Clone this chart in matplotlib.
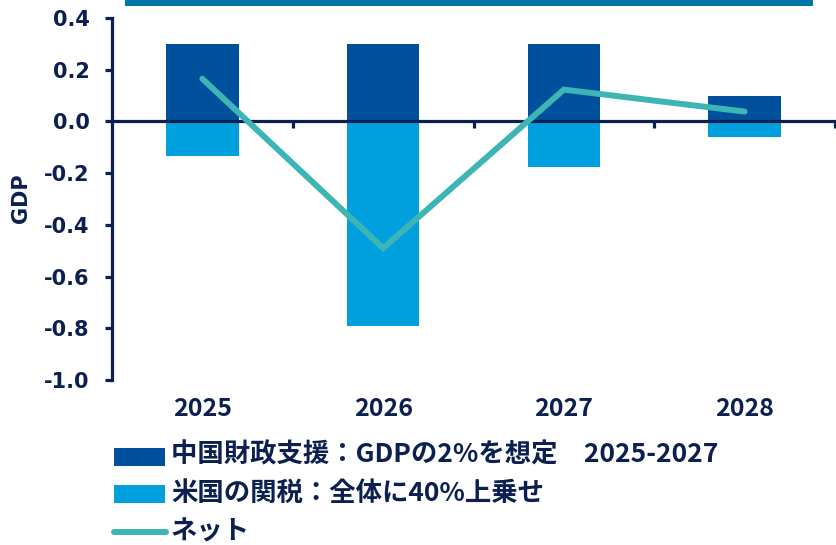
import matplotlib
matplotlib.use("Agg")
import matplotlib.pyplot as plt
from matplotlib.patches import Rectangle
from matplotlib.lines import Line2D
import numpy as np

# Data (percentage points of GDP)
years = ["2025", "2026", "2027", "2028"]
china_fiscal = [0.30, 0.30, 0.30, 0.10]
us_tariff = [-0.135, -0.79, -0.177, -0.062]
net = [0.165, -0.49, 0.123, 0.038]

y_ticks = [0.4, 0.2, 0.0, -0.2, -0.4, -0.6, -0.8, -1.0]
legend_labels = ["中国財政支援：GDPの2%を想定　2025-2027",
                 "米国の関税：全体に40%上乗せ",
                 "ネット"]

NAVY = "#0b2050"
DARK_BLUE = "#00509d"
LIGHT_BLUE = "#00a0df"
TEAL = "#3db5b5"
BAND = "#0077a8"

W, H = 836, 545
fig = plt.figure(figsize=(W / 100, H / 100), dpi=100)
ax = fig.add_axes([112 / W, 1 - 380 / H, (835 - 112) / W, (380 - 18) / H])

x = np.arange(len(years))
ax.bar(x, china_fiscal, width=0.4, color=DARK_BLUE, zorder=2)
ax.bar(x, us_tariff, width=0.4, color=LIGHT_BLUE, zorder=2)
ax.plot(x, net, color=TEAL, linewidth=4.3, solid_capstyle="round",
        solid_joinstyle="miter", zorder=4)

ax.set_xlim(-0.5, len(years) - 0.5)
ax.set_ylim(-1.0, 0.4)

# Axes styling
for side in ("top", "right"):
    ax.spines[side].set_visible(False)
ax.spines["left"].set_color(NAVY)
ax.spines["left"].set_linewidth(2.3)
ax.spines["bottom"].set_position(("data", 0))
ax.spines["bottom"].set_color(NAVY)
ax.spines["bottom"].set_linewidth(2.3)
ax.spines["bottom"].set_zorder(3)

ax.set_yticks(y_ticks)
ax.set_yticklabels([f"{v:.1f}" for v in y_ticks], fontsize=15,
                   fontweight="bold", color=NAVY, family="DejaVu Sans")
ax.tick_params(axis="y", direction="out", length=5, width=2.3,
               color=NAVY, pad=11)
ax.set_xticks(np.arange(len(years)) + 0.5)
ax.set_xticklabels([])
ax.tick_params(axis="x", direction="out", length=5, width=2.3, color=NAVY)

for i, yr in enumerate(years):
    ax.text(i, -1.113, yr, ha="center", va="center", fontsize=18,
            fontweight="bold", color=NAVY, family="Noto Sans CJK JP",
            clip_on=False)

fig.text(21 / W, 1 - 198 / H, "GDP", rotation=90, ha="center", va="center",
         fontsize=15, fontweight="bold", color=NAVY, family="DejaVu Sans")

# Decorative band at the top
fig.add_artist(Rectangle((125 / W, 1 - 6 / H), (813 - 125) / W, 6 / H,
                         transform=fig.transFigure, color=BAND, lw=0))

# Legend
rows_y = [455, 493, 532]
fig.add_artist(Rectangle((114 / W, 1 - 466 / H), 51 / W, 18 / H,
                         transform=fig.transFigure, color=DARK_BLUE, lw=0))
fig.add_artist(Rectangle((114 / W, 1 - 503 / H), 51 / W, 18 / H,
                         transform=fig.transFigure, color=LIGHT_BLUE, lw=0))
fig.add_artist(Line2D([114 / W, 166 / W], [1 - 532 / H, 1 - 532 / H],
                      transform=fig.transFigure, color=TEAL, lw=4.3,
                      solid_capstyle="round"))
for yy, lab in zip(rows_y, legend_labels):
    fig.text(171 / W, 1 - yy / H, lab, ha="left", va="center", fontsize=19,
             fontweight="bold", color=NAVY,
             family=["Noto Sans CJK JP", "DejaVu Sans"])

fig.savefig("out.png", dpi=100)
